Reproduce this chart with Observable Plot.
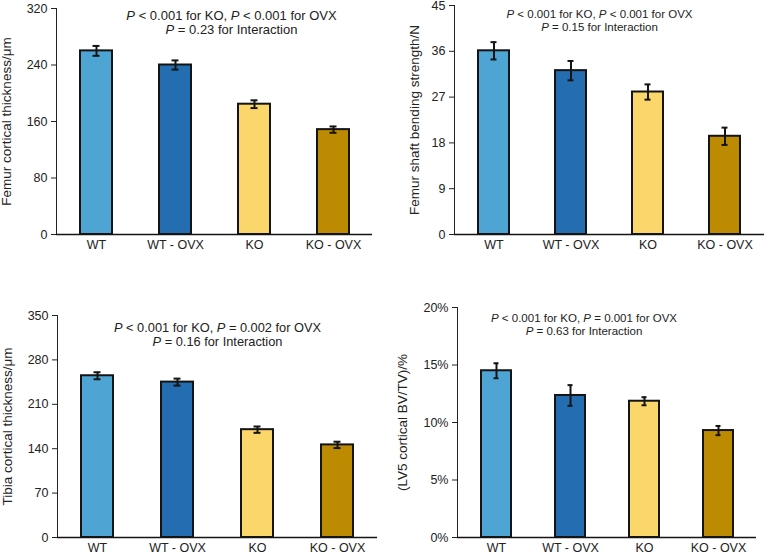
<!DOCTYPE html>
<html><head><meta charset="utf-8">
<script src="https://cdn.jsdelivr.net/npm/d3@7"></script>
<script src="https://cdn.jsdelivr.net/npm/@observablehq/plot@0.6"></script>
<style>
body{margin:0;background:#fff;}
#wrap{position:relative;width:768px;height:555px;overflow:hidden;font-family:"Liberation Sans",Arial,sans-serif;}
.panel{position:absolute;}
</style></head><body><div id="wrap"></div>
<script>
const groups = ["WT", "WT - OVX", "KO", "KO - OVX"];
const groupColors = ["#4EA5D4", "#236DB0", "#FBD66B", "#BC8B02"];

const femurThickness = [260, 240, 184.5, 148.5];
const femurThicknessErr = [7, 6.5, 5.5, 4.5];
const femurThicknessTicks = [0, 80, 160, 240, 320];

const femurStrength = [36.1, 32.2, 28.0, 19.3];
const femurStrengthErr = [1.7, 1.9, 1.5, 1.7];
const femurStrengthTicks = [0, 9, 18, 27, 36, 45];

const tibiaThickness = [255, 245, 170, 146];
const tibiaThicknessErr = [5.5, 5.5, 5, 5];
const tibiaThicknessTicks = [0, 70, 140, 210, 280, 350];

const lv5BVTV = [14.5, 12.35, 11.85, 9.3];
const lv5BVTVErr = [0.65, 0.9, 0.35, 0.4];
const lv5BVTVTicks = [0, 5, 10, 15, 20];

const labels = ["Femur cortical thickness/\u03bcm", "Femur shaft bending strength/N", "Tibia cortical thickness/\u03bcm", "(LV5 cortical BV/TV)/%"];
const notes = [
  "P < 0.001 for KO, P < 0.001 for OVX\nP = 0.23 for Interaction",
  "P < 0.001 for KO, P < 0.001 for OVX\nP = 0.15 for Interaction",
  "P < 0.001 for KO, P = 0.002 for OVX\nP = 0.16 for Interaction",
  "P < 0.001 for KO, P = 0.001 for OVX\nP = 0.63 for Interaction"
];

const INK = "#141414";

function italicizeP(svg) {
  svg.querySelectorAll("text").forEach(t => {
    if (!t.textContent.includes("for")) return;
    const nodes = t.querySelectorAll("tspan").length ? Array.from(t.querySelectorAll("tspan")) : [t];
    nodes.forEach(n => {
      const s = n.textContent;
      n.textContent = "";
      s.split(/(P)/).forEach(part => {
        if (!part) return;
        const sp = document.createElementNS("http://www.w3.org/2000/svg", "tspan");
        if (part === "P") sp.setAttribute("font-style", "italic");
        sp.textContent = part;
        n.appendChild(sp);
      });
    });
  });
}

function panel(cfg) {
  const data = groups.map((g, i) => ({group: g, value: cfg.values[i], err: cfg.errors[i]}));
  const ticks = cfg.ticks;
  const chart = Plot.plot({
    width: 384,
    height: cfg.height,
    marginLeft: cfg.m[0], marginTop: cfg.m[1], marginRight: cfg.m[2], marginBottom: cfg.m[3],
    style: {fontSize: "12.5px", fontFamily: "'Liberation Sans', Arial, sans-serif", color: "#222", background: "transparent"},
    x: {domain: groups, paddingInner: 0.6, paddingOuter: 0.3, label: null, tickSize: 0, tickPadding: 6},
    y: {domain: [ticks[0], ticks[ticks.length - 1]], ticks: ticks, tickFormat: cfg.fmt, label: null, tickSize: 5, tickPadding: 4, line: true},
    color: {domain: groups, range: groupColors},
    marks: [
      Plot.barY(data, {x: "group", y: "value", fill: "group", stroke: INK, strokeWidth: 2}),
      Plot.ruleY([0], {stroke: INK, strokeWidth: 1.3}),
      Plot.ruleX(data, {x: "group", y1: d => d.value - d.err, y2: d => d.value + d.err, stroke: INK, strokeWidth: 2}),
      Plot.tickY(data, {x: "group", y: d => d.value - d.err, stroke: INK, strokeWidth: 2, insetLeft: 12.5, insetRight: 12.5}),
      Plot.tickY(data, {x: "group", y: d => d.value + d.err, stroke: INK, strokeWidth: 2, insetLeft: 12.5, insetRight: 12.5}),
      Plot.text([cfg.note], {text: d => d, frameAnchor: "top", lineAnchor: "top", dx: cfg.noteDx, dy: cfg.noteDy, fontSize: cfg.noteSize, lineHeight: cfg.noteLH, fill: "#222"}),
      Plot.text([cfg.label], {text: d => d, frameAnchor: "left", textAnchor: "middle", rotate: -90, dx: cfg.labelDx, fontSize: 13.5, fill: "#222"})
    ]
  });
  italicizeP(chart);
  const div = document.createElement("div");
  div.className = "panel";
  div.style.left = cfg.left + "px";
  div.style.top = cfg.top + "px";
  div.appendChild(chart);
  document.getElementById("wrap").appendChild(div);
}

const pct = d => d + "%";

panel({values: femurThickness, errors: femurThicknessErr, ticks: femurThicknessTicks, label: labels[0], note: notes[0],
  left: 0, top: 0, height: 270, m: [56, 8, 12, 36], noteDx: 17, noteDy: 1, noteSize: 13, noteLH: 1.1, labelDx: -50});
panel({values: femurStrength, errors: femurStrengthErr, ticks: femurStrengthTicks, label: labels[1], note: notes[1],
  left: 384, top: 0, height: 270, m: [70, 5, 4, 36], noteDx: -10, noteDy: 4, noteSize: 11.5, noteLH: 1.1, labelDx: -40});
panel({values: tibiaThickness, errors: tibiaThicknessErr, ticks: tibiaThicknessTicks, label: labels[2], note: notes[2],
  left: 0, top: 280, height: 275, m: [57, 35, 7, 18], noteDx: 0, noteDy: 6.5, noteSize: 12.8, noteLH: 1.08, labelDx: -50});
panel({values: lv5BVTV, errors: lv5BVTVErr, ticks: lv5BVTVTicks, fmt: pct, label: labels[3], note: notes[3],
  left: 384, top: 280, height: 275, m: [73, 27, 12, 18], noteDx: -23, noteDy: 6, noteSize: 11.5, noteLH: 1.1, labelDx: -55});
</script>
</body></html>
